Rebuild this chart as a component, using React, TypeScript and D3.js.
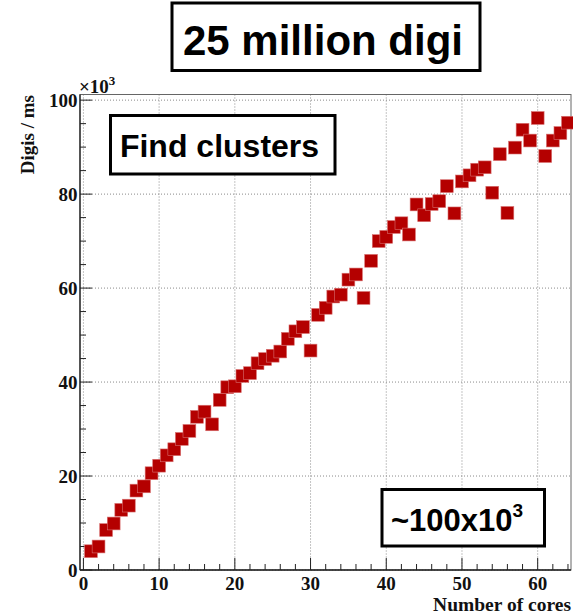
import React from "react";
import * as d3 from "d3";

// Number of cores used in each run
const cores = [
  1, 2, 3, 4, 5, 6, 7, 8, 9, 10, 11, 12, 13, 14, 15, 16,
  17, 18, 19, 20, 21, 22, 23, 24, 25, 26, 27, 28, 29, 30, 31, 32,
  33, 34, 35, 36, 37, 38, 39, 40, 41, 42, 43, 44, 45, 46, 47, 48,
  49, 50, 51, 52, 53, 54, 55, 56, 57, 58, 59, 60, 61, 62, 63, 64,
];

// Throughput in units of 10^3 digis per ms
const digisPerMs = [
  4.0, 5.0, 8.5, 9.9, 12.8, 13.7, 16.9, 17.8, 20.6, 22.2, 24.4, 25.7, 27.9, 29.6, 32.6, 33.7,
  31.0, 36.2, 38.9, 39.1, 41.3, 41.9, 44.0, 44.9, 45.6, 46.5, 49.2, 50.8, 51.7, 46.7, 54.3, 55.8,
  58.2, 58.6, 61.8, 62.9, 57.9, 65.8, 70.0, 70.9, 73.0, 73.8, 71.4, 77.8, 75.5, 77.9, 78.5, 81.7,
  75.9, 82.7, 84.0, 85.2, 85.7, 80.3, 88.5, 76.0, 89.9, 93.7, 91.4, 96.2, 88.1, 91.4, 93.0, 95.2,
];

const xMajorTicks = [0, 10, 20, 30, 40, 50, 60];
const yMajorTicks = [0, 20, 40, 60, 80, 100];

const titleText = "25 million digi";
const stepText = "Find clusters";
const rateText = "~100x10";
const rateExp = "3";
const xTitle = "Number of cores";
const yTitle = "Digis / ms";

const W = 573;
const H = 616;
const frame = { left: 80, right: 571, top: 94.5, bottom: 570 };

const serif = "'Liberation Serif', 'Times New Roman', serif";
const sans = "'Liberation Sans', Arial, Helvetica, sans-serif";
const markerColor = "#b40000";
const gridColor = "#8a8a8a";

export default function App() {
  const x = d3.scaleLinear().domain([-0.45, 64.4]).range([frame.left, frame.right]);
  const y = d3.scaleLinear().domain([0, 101.2]).range([frame.bottom, frame.top]);

  const xMinor = d3.range(0, 64.01, 2).filter((v) => v % 10 !== 0);
  const yMinor = d3.range(0, 100.01, 5).filter((v) => v % 20 !== 0);
  const half = 6.4;

  return (
    <svg
      width={W}
      height={H}
      style={{ position: "absolute", left: 0, top: 0, background: "#fff" }}
    >
      {/* grid */}
      <g stroke={gridColor} strokeWidth={1} strokeDasharray="1 2">
        {xMajorTicks.map((t) => (
          <line key={"gx" + t} x1={x(t)} x2={x(t)} y1={frame.top} y2={frame.bottom} />
        ))}
        {yMajorTicks.map((t) => (
          <line key={"gy" + t} x1={frame.left} x2={frame.right} y1={y(t)} y2={y(t)} />
        ))}
      </g>

      {/* frame */}
      <rect
        x={frame.left}
        y={frame.top}
        width={frame.right - frame.left}
        height={frame.bottom - frame.top}
        fill="none"
        stroke="#666"
        strokeWidth={1}
      />
      <line x1={frame.left} x2={frame.left} y1={frame.top} y2={frame.bottom} stroke="#222" strokeWidth={1.3} />
      <line x1={frame.left} x2={frame.right} y1={frame.bottom} y2={frame.bottom} stroke="#222" strokeWidth={1.3} />

      {/* ticks */}
      <g stroke="#222" strokeWidth={1}>
        {xMajorTicks.map((t) => (
          <line key={"xt" + t} x1={x(t)} x2={x(t)} y1={frame.bottom} y2={frame.bottom - 12} />
        ))}
        {xMinor.map((t) => (
          <line key={"xm" + t} x1={x(t)} x2={x(t)} y1={frame.bottom} y2={frame.bottom - 6} />
        ))}
        {yMajorTicks.map((t) => (
          <line key={"yt" + t} x1={frame.left} x2={frame.left + 12} y1={y(t)} y2={y(t)} />
        ))}
        {yMinor.map((t) => (
          <line key={"ym" + t} x1={frame.left} x2={frame.left + 6} y1={y(t)} y2={y(t)} />
        ))}
      </g>

      {/* tick labels */}
      <g fontFamily={serif} fontWeight="bold" fontSize={19} fill="#111">
        {xMajorTicks.map((t) => (
          <text key={"xl" + t} x={x(t)} y={589.5} textAnchor="middle">
            {t}
          </text>
        ))}
        {yMajorTicks.map((t) => (
          <text key={"yl" + t} x={77.5} y={y(t) + 6.5} textAnchor="end">
            {t}
          </text>
        ))}
      </g>

      {/* exponent label */}
      <text x={79} y={93} fontFamily={serif} fontWeight="bold" fontSize={19} fill="#111">
        ×10
        <tspan fontSize={13} dy={-8}>
          3
        </tspan>
      </text>

      {/* axis titles */}
      <text
        x={frame.right}
        y={610.5}
        textAnchor="end"
        fontFamily={serif}
        fontWeight="bold"
        fontSize={19.5}
        fill="#111"
      >
        {xTitle}
      </text>
      <text
        transform={`translate(34,95) rotate(-90)`}
        textAnchor="end"
        fontFamily={serif}
        fontWeight="bold"
        fontSize={19}
        fill="#111"
      >
        {yTitle}
      </text>

      {/* markers */}
      <g>
        {cores.map((c, i) => (
          <rect
            key={"m" + c}
            x={x(c) - half}
            y={y(digisPerMs[i]) - half}
            width={half * 2}
            height={half * 2}
            fill={markerColor}
            stroke="#d87070"
            strokeWidth={0.6}
          />
        ))}
      </g>

      {/* title box */}
      <rect x={172} y={3} width={308} height={67.5} fill="#fff" stroke="#000" strokeWidth={3} />
      <text x={323} y={55} textAnchor="middle" fontFamily={sans} fontWeight="bold" fontSize={42} fill="#000">
        {titleText}
      </text>

      {/* step label */}
      <rect x={110.5} y={115.5} width={224.5} height={58.5} fill="#fff" stroke="#000" strokeWidth={3} />
      <text x={219.5} y={156.5} textAnchor="middle" fontFamily={sans} fontWeight="bold" fontSize={32} fill="#000">
        {stepText}
      </text>

      {/* rate label */}
      <rect x={382} y={489.5} width={162.5} height={56.5} fill="#fff" stroke="#000" strokeWidth={3} />
      <text x={391} y={531} fontFamily={sans} fontWeight="bold" fontSize={31} fill="#000">
        {rateText}
        <tspan fontSize={19} dy={-14}>
          {rateExp}
        </tspan>
      </text>
    </svg>
  );
}
